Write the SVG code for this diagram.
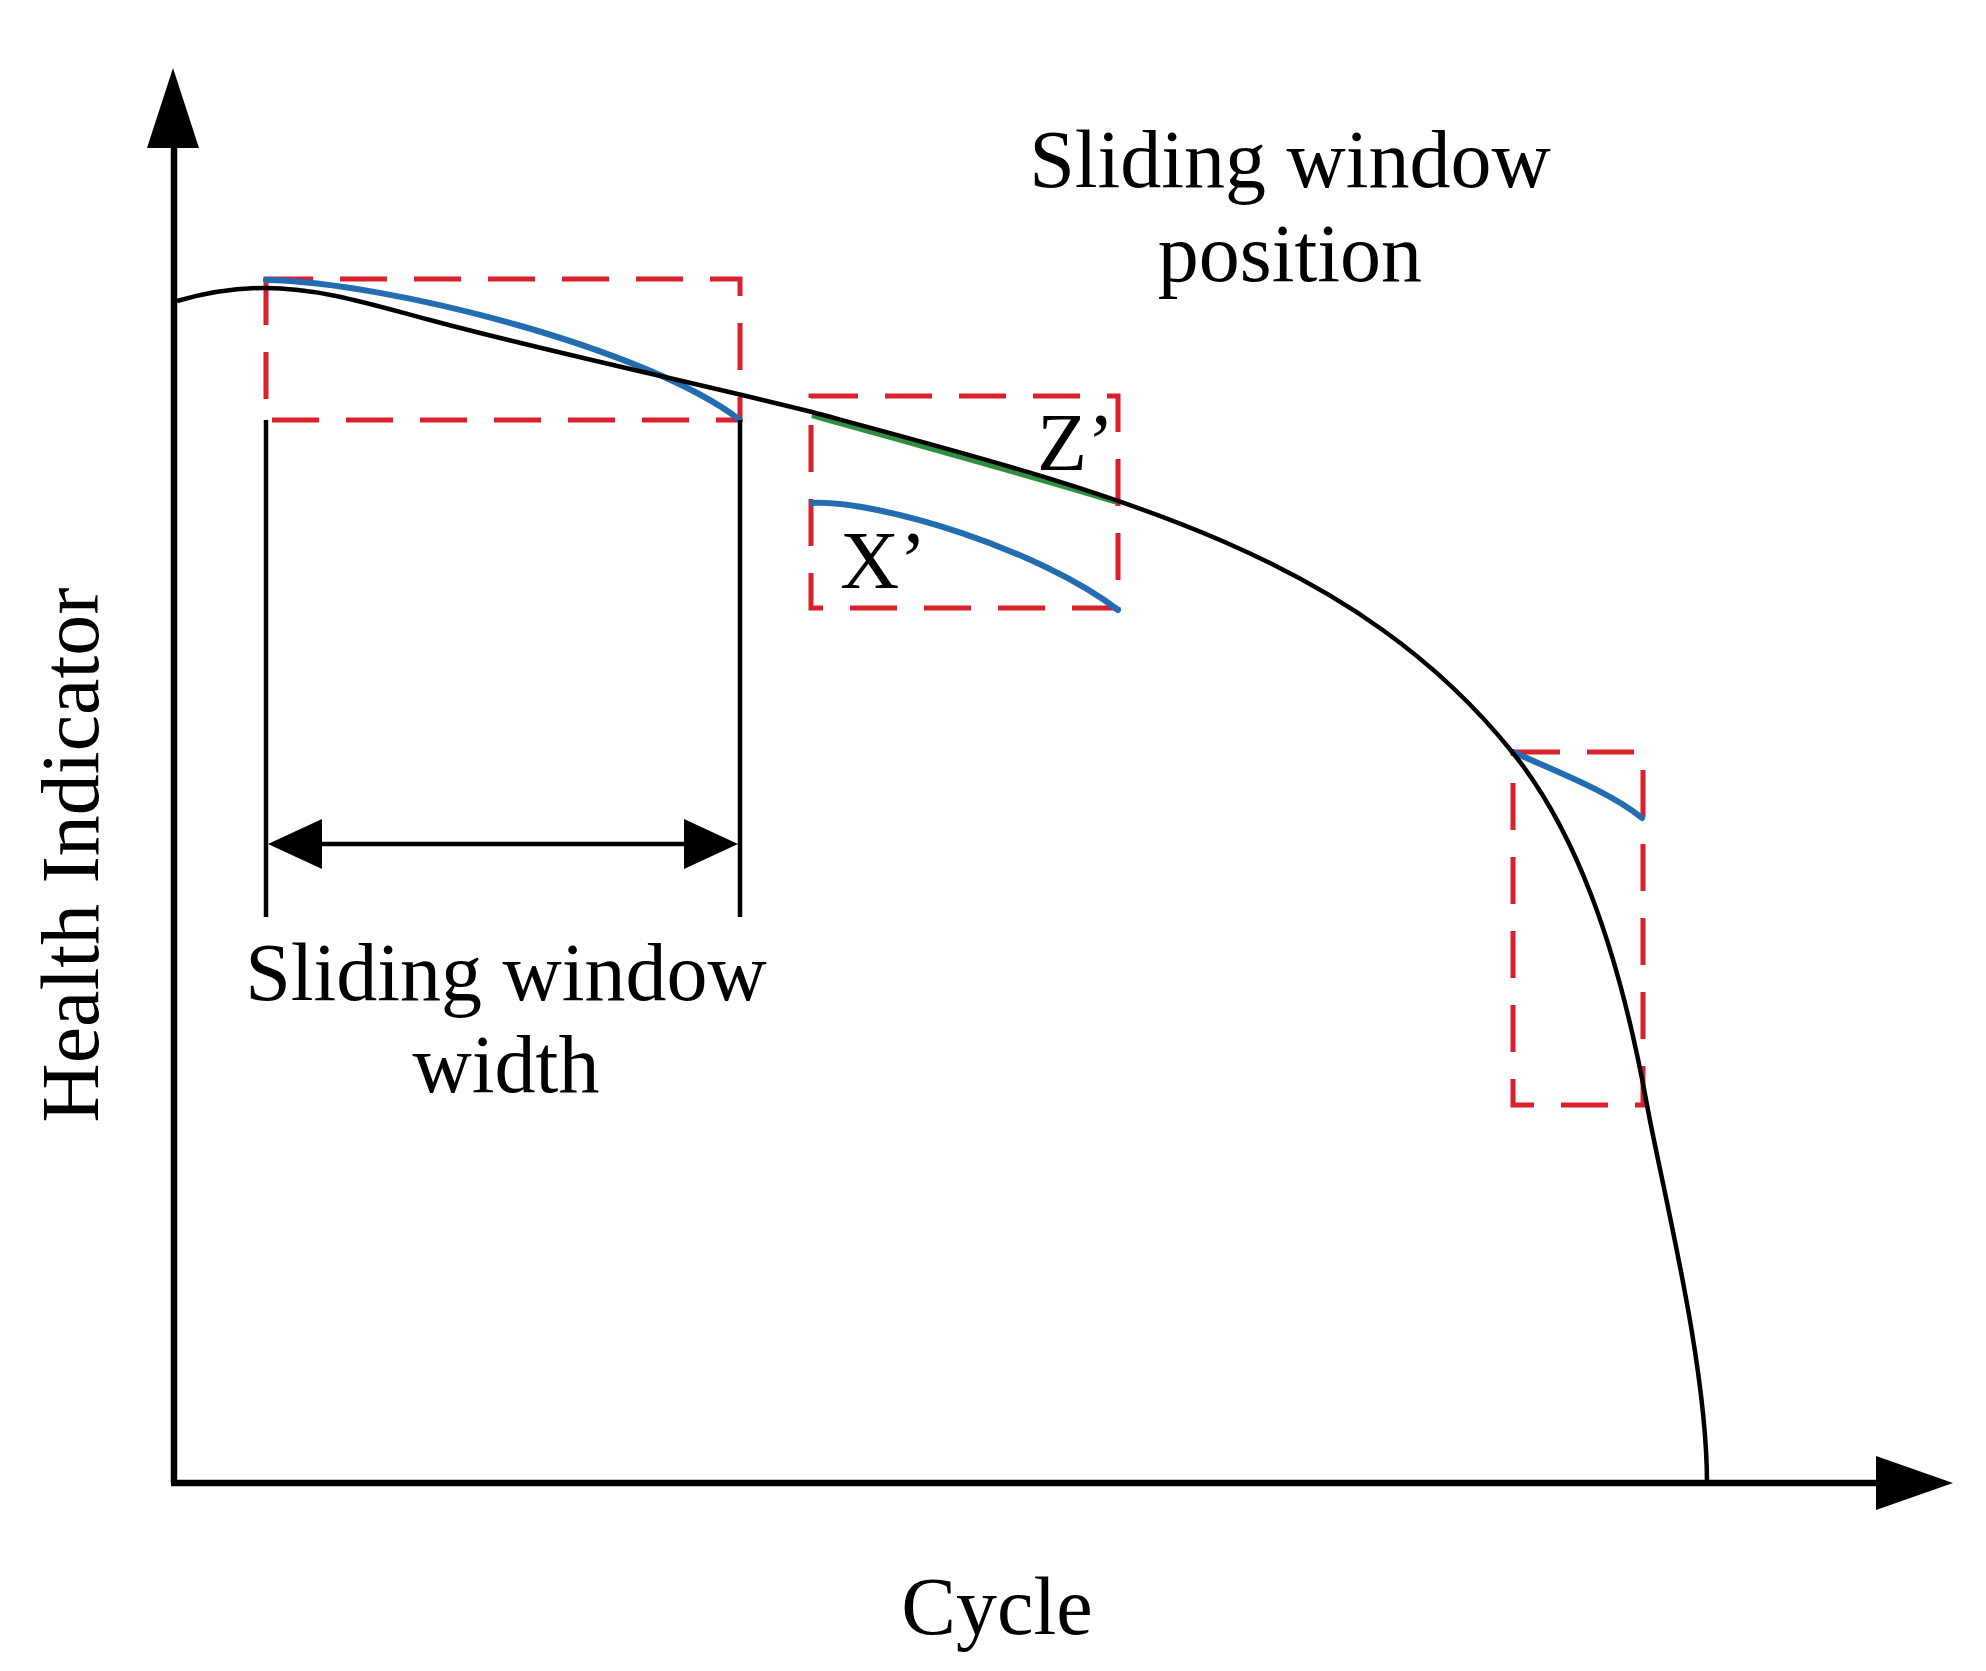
<svg xmlns="http://www.w3.org/2000/svg" width="1986" height="1671" viewBox="0 0 1986 1671">
<style>
text{font-family:"Liberation Serif","Times New Roman",serif;font-size:82px;fill:#000}
.win{fill:none;stroke:#d9202c;stroke-width:5;stroke-dasharray:47 27}
.blue{fill:none;stroke:#236cb0;stroke-width:6;stroke-linecap:round}
.ax{stroke:#000;stroke-width:6.5;fill:none}
.thin{stroke:#000;stroke-width:4.5;fill:none}
</style>
<rect width="1986" height="1671" fill="#fff"/>
<g id="axes">
<line class="ax" x1="174" y1="140" x2="174" y2="1483"/>
<polygon points="173,68 147,148 199,148" fill="#000"/>
<line class="ax" x1="171" y1="1483" x2="1880" y2="1483"/>
<polygon points="1953,1483 1876,1456 1876,1510" fill="#000"/>
</g>
<g id="windows">
<rect id="window1" class="win" x="266" y="279" width="474" height="141"/>
<rect id="window2" class="win" x="811" y="396" width="307" height="212"/>
<rect id="window3" class="win" x="1513" y="752" width="130" height="353"/>
</g>
<g id="segments">
<path id="zprime" d="M812,415 C890,437 1040,478 1117,502" fill="none" stroke="#2f8f3f" stroke-width="6"/>
<path id="seg1" class="blue" d="M266,280 C390,282 650,350 740,420"/>
<path id="xprime" class="blue" d="M812,503 C880,500 1040,550 1118,610"/>
<path id="seg3" class="blue" d="M1513,752 C1560,773 1612,793 1642,818"/>
</g>
<g id="curve">
<path class="thin" d="M177,301 C205,293 235,288 264,288 C320,288 370,304 430,320 C550,352.4 692,382 812,412 C1112,493 1353,553 1513,753 C1573,828 1617,940 1647,1105 C1662,1187 1707,1363 1707,1483"/>
</g>
<g id="width-marker">
<line class="thin" x1="266" y1="420" x2="266" y2="917"/>
<line class="thin" x1="740" y1="420" x2="740" y2="917"/>
<line class="thin" x1="300" y1="844" x2="710" y2="844"/>
<polygon points="268,844 322,819 322,869" fill="#000"/>
<polygon points="738,844 684,819 684,869" fill="#000"/>
</g>
<g id="labels">
<text x="1290" y="187" text-anchor="middle">Sliding window</text>
<text x="1290" y="281" text-anchor="middle">position</text>
<text x="506" y="1000" text-anchor="middle">Sliding window</text>
<text x="506" y="1092" text-anchor="middle">width</text>
<text x="997" y="1634" text-anchor="middle">Cycle</text>
<text transform="translate(98,855) rotate(-90)" text-anchor="middle">Health Indicator</text>
<text x="840" y="588">X’</text>
<text x="1037" y="470">Z’</text>
</g>
</svg>
